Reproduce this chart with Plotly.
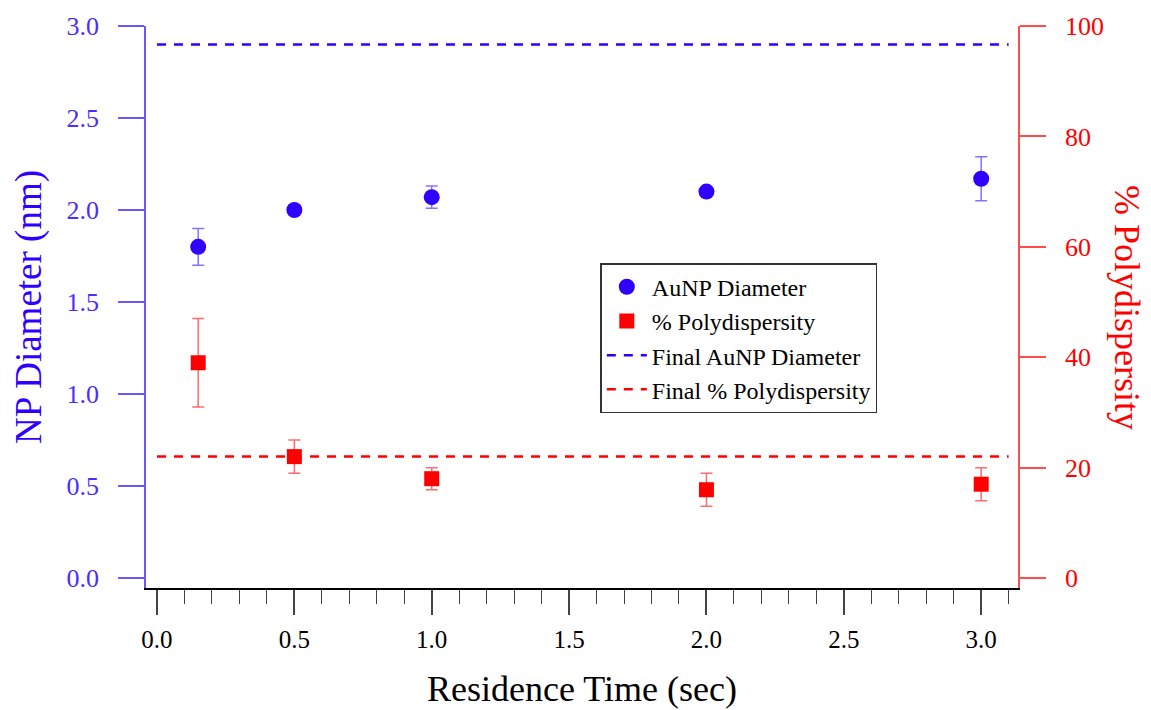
import plotly.graph_objects as go

# ---- data ----
time_s = [0.15, 0.5, 1.0, 2.0, 3.0]
diameter_nm = [1.80, 2.00, 2.07, 2.10, 2.17]
diameter_err = [0.10, 0.0, 0.06, 0.0, 0.12]
polydisp_pct = [39, 22, 18, 16, 17]
polydisp_err = [8, 3, 2, 3, 3]
final_x = [0.0, 3.1]
final_diameter = [2.9, 2.9]
final_polydisp = [22, 22]

x_ticks = [0.0, 0.5, 1.0, 1.5, 2.0, 2.5, 3.0]
y1_ticks = [0.0, 0.5, 1.0, 1.5, 2.0, 2.5, 3.0]
y2_ticks = [0, 20, 40, 60, 80, 100]

BLUE = "#2f00ff"
BLUE_AX = "#6b55ff"
BLUE_TXT = "#4a2dff"
RED = "#ff0000"
RED_AX = "#ff4d4d"
SERIF = "Liberation Serif, Times New Roman, serif"

fig = go.Figure()
fig.add_trace(go.Scatter(
    x=time_s, y=diameter_nm, mode="markers", name="AuNP Diameter",
    marker=dict(symbol="circle", size=16, color=BLUE),
    error_y=dict(type="data", array=diameter_err, color="rgba(90,70,255,0.75)",
                 thickness=1.5, width=6),
    yaxis="y"))
fig.add_trace(go.Scatter(
    x=time_s, y=polydisp_pct, mode="markers", name="% Polydispersity",
    marker=dict(symbol="square", size=15, color=RED),
    error_y=dict(type="data", array=polydisp_err, color="rgba(255,60,60,0.75)",
                 thickness=1.5, width=6),
    yaxis="y2"))
fig.add_trace(go.Scatter(
    x=final_x, y=final_diameter, mode="lines", name="Final AuNP Diameter",
    line=dict(color=BLUE, width=2.5, dash="9px,8px"), yaxis="y"))
fig.add_trace(go.Scatter(
    x=final_x, y=final_polydisp, mode="lines", name="Final % Polydispersity",
    line=dict(color=RED, width=2.5, dash="9px,8px"), yaxis="y2"))

fig.update_layout(
    width=1151, height=710,
    margin=dict(l=146, r=133, t=26, b=122),
    paper_bgcolor="white", plot_bgcolor="white",
    font=dict(family=SERIF, color="black"),
    showlegend=True,
    legend=dict(x=0.521, y=0.578, xanchor="left", yanchor="top",
                bordercolor="#333333", borderwidth=1.5, bgcolor="white",
                font=dict(family=SERIF, size=24, color="black"),
                itemwidth=40, tracegroupgap=0),
    xaxis=dict(range=[-0.04, 3.134], tickvals=x_ticks, tickformat=".1f",
               ticks="outside", ticklen=25, tickwidth=1.5, tickcolor="#444444",
               minor=dict(dtick=0.1, ticks="outside", ticklen=14, tickwidth=1.2,
                          tickcolor="#444444"),
               showline=True, linecolor="black", linewidth=1.5,
               showgrid=False, zeroline=False, ticklabelstandoff=3, automargin=False,
               tickfont=dict(family=SERIF, size=25, color="black"),
               title=dict(text="Residence Time (sec)",
                          font=dict(family=SERIF, size=36, color="black"),
                          standoff=24)),
    yaxis=dict(range=[-0.054, 3.0], tickvals=y1_ticks, tickformat=".1f",
               ticks="outside", ticklen=26, tickwidth=1.5, tickcolor=BLUE_AX,
               showline=True, linecolor=BLUE_AX, linewidth=1.5, automargin=False,
               showgrid=False, zeroline=False, ticklabelstandoff=14,
               tickfont=dict(family=SERIF, size=26, color=BLUE_TXT),
               title=dict(text="NP Diameter (nm)",
                          font=dict(family=SERIF, size=37, color=BLUE),
                          standoff=14)),
    yaxis2=dict(range=[-1.8, 100], tickvals=y2_ticks, overlaying="y", side="right",
                ticks="outside", ticklen=26, tickwidth=1.5, tickcolor=RED_AX,
                showline=True, linecolor=RED_AX, linewidth=1.5, automargin=False,
                showgrid=False, zeroline=False, ticklabelstandoff=14,
                tickfont=dict(family=SERIF, size=26, color=RED)),
    annotations=[dict(text="% Polydispersity", textangle=90, xref="paper", yref="paper",
                      x=1.125, y=0.5, xanchor="center", yanchor="middle", showarrow=False,
                      font=dict(family=SERIF, size=36, color=RED))],
)

fig.write_html("out.html")
